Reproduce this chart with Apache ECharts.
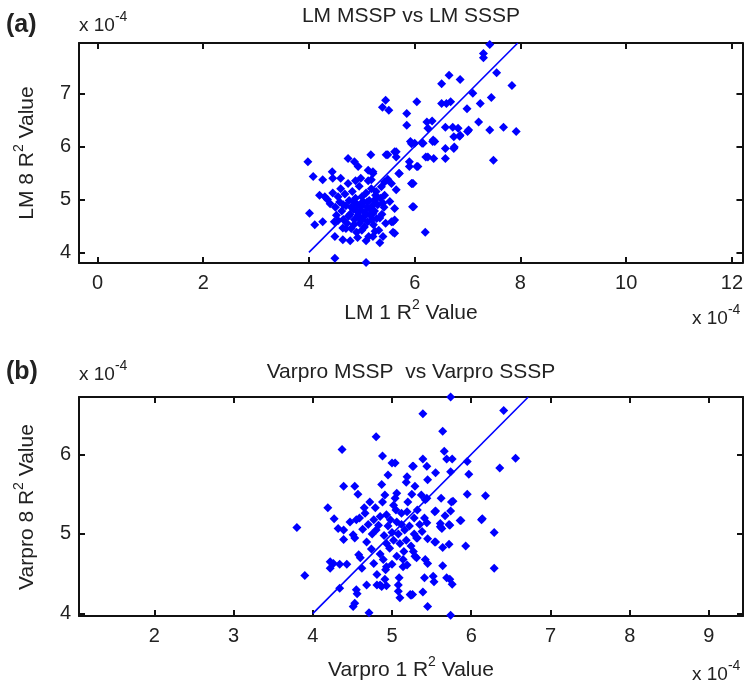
<!DOCTYPE html>
<html>
<head>
<meta charset="utf-8">
<script src="https://cdn.jsdelivr.net/npm/echarts@6/dist/echarts.min.js"></script>
<style>
html,body{margin:0;padding:0;background:#fff;}
#chart{width:746px;height:687px;}
</style>
</head>
<body>
<div id="chart"></div>
<script>
// ---------- data (values in units of 1e-4) ----------
const titleA = 'LM MSSP vs LM SSSP';
const titleB = 'Varpro MSSP  vs Varpro SSSP';
const topXTicks = [0, 2, 4, 6, 8, 10, 12];
const topYTicks = [4, 5, 6, 7];
const botXTicks = [2, 3, 4, 5, 6, 7, 8, 9];
const botYTicks = [4, 5, 6];
const topXRange = [-0.35, 12.2];
const topYRange = [3.8, 7.95];
const botXRange = [1.05, 9.43];
const botYRange = [3.97, 6.72];
const fitA = [[4, 4], [7.95, 7.95]];
const fitB = [[4, 4], [6.72, 6.72]];

const pointsA = [
 [5.45,6.87],[5.39,6.74],[5.51,6.68],[5.85,6.62],[5.85,6.40],[5.92,6.09],
 [3.98,5.71],[4.74,5.77],[5.17,5.84],[5.49,5.84],[5.65,5.90],
 [4.08,5.43],[4.26,5.37],[4.44,5.52],[4.45,5.40],[4.86,5.71],[4.93,5.62],
 [5.12,5.55],[5.21,5.49],[5.70,5.49],[5.90,5.62],[5.65,5.18],[5.97,5.30],
 [4.20,5.08],[4.30,5.05],[4.01,4.74],[4.11,4.52],[4.26,4.58],[4.49,4.30],
 [4.64,4.46],[4.64,4.24],[5.34,4.18],[5.62,4.36],[5.59,4.58],[4.49,3.89],
 [5.08,3.81],[5.96,4.86],
 [7.42,7.92],[7.30,7.75],[7.30,7.67],[6.65,7.34],[6.51,7.18],[6.86,7.26],[7.55,7.39],[7.84,7.15],
 [6.04,6.84],[6.51,6.81],[6.60,6.81],[6.68,6.84],[7.10,7.00],[6.99,6.71],[7.24,6.81],[7.45,6.92],
 [6.23,6.46],[6.33,6.48],[6.25,6.34],[7.21,6.46],[6.58,6.36],[6.72,6.36],[6.82,6.34],[7.02,6.31],
 [7.42,6.31],[7.68,6.36],[7.92,6.28],[6.74,6.18],[6.86,6.21],[6.35,6.12],[6.38,6.09],[6.16,6.06],
 [6.00,6.06],[6.58,5.96],[6.74,5.96],[6.21,5.80],[6.36,5.77],[6.58,5.77],[7.49,5.74],[6.04,5.62],
 [5.95,5.30],[5.98,4.86],[6.20,4.38],
 [5.46,5.84],[5.62,5.90],[5.65,5.80],[5.21,5.52],[5.18,5.37],[5.43,5.33],[5.49,5.38],[5.56,5.30],
 [5.37,5.24],[5.27,5.15],[5.43,5.08],[5.24,4.99],[5.40,4.93],[5.53,4.96],[5.62,4.83],
 [5.21,4.74],[5.34,4.65],[5.56,4.58],[5.62,4.61],[5.59,4.38],[5.21,4.30],
 [5.94,6.05],[6.14,6.06],[6.34,6.09],[6.75,5.99],[6.85,6.19],[7.00,6.28],
 [5.90,5.71],[6.06,5.62],[5.94,5.30],[5.71,5.49],[6.25,5.80],
 [4.35,5.00],[4.40,4.92],[4.45,5.12],[4.50,4.85],[4.52,4.70],[4.55,5.05],[4.58,4.95],[4.60,5.20],[4.62,4.78],[4.65,4.62],
 [4.68,5.10],[4.70,4.88],[4.72,4.55],[4.74,5.30],[4.76,4.98],[4.78,4.72],[4.80,4.45],[4.82,5.15],[4.84,4.82],[4.86,4.62],
 [4.88,5.02],[4.90,4.38],[4.92,4.90],[4.93,4.70],[4.95,5.25],[4.96,4.55],[4.98,4.80],[5.00,5.05],[5.01,4.62],[5.03,4.95],
 [5.05,4.48],[5.06,4.75],[5.08,5.12],[5.10,4.85],[5.11,4.58],[5.13,4.30],[5.14,4.98],[5.16,4.70],[5.18,5.20],[5.20,4.88],
 [5.22,4.52],[5.24,4.78],[5.26,5.08],[5.28,4.64],[5.30,4.90],[5.32,4.42],[5.35,5.02],[5.38,4.72],[5.42,4.85],[5.45,4.55],
 [4.85,4.95],[4.90,4.78],[4.95,4.65],[5.00,4.88],[5.05,4.68],[5.10,4.95],[4.80,4.85],[4.75,4.68],[5.15,4.82],[5.20,4.62],
 [4.70,4.45],[4.85,4.52],[5.00,4.42],[4.65,4.90],[4.55,4.60],[5.12,5.35],[4.98,5.40],[4.88,5.35],[4.60,5.40],[4.48,4.58],
 [5.25,4.40],[4.92,4.28],[5.08,4.22],[4.78,4.22],[5.40,4.30]
];

const pointsB = [
 [4.80,6.22],[4.37,6.06],[4.88,5.98],[5.00,5.89],[5.04,5.89],[5.26,5.85],[4.95,5.74],[5.19,5.72],
 [4.39,5.60],[4.53,5.60],[4.57,5.50],[4.87,5.62],[5.18,5.65],[4.19,5.33],[3.80,5.08],[4.65,5.33],
 [4.66,5.26],[4.79,5.33],[4.91,5.49],[5.06,5.51],[4.27,5.19],[4.32,5.07],[4.39,5.05],[4.47,5.15],
 [4.55,5.18],[4.59,5.20],[4.63,5.06],[4.51,4.99],[4.53,4.95],[4.39,4.93],[4.77,5.18],[4.83,5.11],
 [4.93,5.24],[5.02,5.36],[5.12,5.26],[5.06,5.15],[5.19,5.28],[4.68,4.90],[4.74,4.81],[4.58,4.74],
 [4.60,4.70],[4.93,4.88],[4.97,4.82],[5.06,4.72],[4.22,4.65],[4.26,4.63],[4.34,4.62],[4.43,4.62],
 [4.22,4.57],[4.62,4.57],[4.77,4.63],[4.89,4.68],[5.14,4.59],[5.19,4.61],[3.90,4.48],[4.34,4.32],
 [4.55,4.30],[4.56,4.25],[4.68,4.36],[4.81,4.49],[4.81,4.36],[4.87,4.34],[4.93,4.35],[5.08,4.36],
 [5.08,4.28],[5.10,4.20],[5.23,4.24],[4.53,4.13],[4.51,4.09],[4.71,4.01],[5.09,4.45],[5.31,4.95],
 [5.74,6.72],[5.39,6.51],[6.41,6.55],[5.64,6.29],[5.66,6.04],[5.39,5.94],[5.69,5.94],[5.76,5.94],
 [5.95,5.91],[6.56,5.95],[6.36,5.83],[5.27,5.85],[5.44,5.85],[5.55,5.77],[5.74,5.78],[5.97,5.75],
 [5.45,5.68],[5.29,5.60],[5.37,5.49],[5.44,5.45],[5.42,5.43],[5.62,5.45],[5.77,5.41],[5.95,5.50],
 [6.18,5.48],[5.55,5.29],[5.67,5.23],[5.74,5.29],[5.28,5.20],[5.41,5.20],[5.44,5.14],[5.61,5.13],
 [5.63,5.07],[5.72,5.12],[5.87,5.17],[6.14,5.19],[6.29,5.02],[5.38,5.03],[5.32,4.95],[5.45,4.94],
 [5.55,4.90],[5.64,4.83],[5.72,4.87],[5.93,4.85],[5.27,4.78],[5.29,4.72],[5.31,4.70],[5.42,4.68],
 [5.45,4.63],[5.64,4.60],[6.29,4.57],[5.41,4.45],[5.52,4.47],[5.53,4.40],[5.69,4.45],[5.76,4.37],
 [5.26,4.24],[5.39,4.27],[5.45,4.09],[5.74,3.98],
 [6.13,5.18],[5.86,5.17],[5.75,5.40],[5.54,5.28],[5.73,5.11],[5.61,5.09],[5.54,4.90],[5.73,4.43],
 [5.24,4.23],[4.91,4.43],[4.85,4.36],[4.93,4.59],
 [4.72,5.40],[4.80,5.05],[4.85,5.22],[4.90,4.98],[4.95,5.10],[5.00,5.02],[5.02,4.92],[5.05,5.30],[5.08,5.00],[5.10,4.88],
 [5.12,5.12],[5.15,4.78],[5.16,5.05],[5.18,4.92],[5.20,5.40],[5.22,5.10],[5.24,4.85],[4.98,5.18],[4.88,5.40],[4.75,5.00],
 [5.00,4.62],[5.14,4.68],[4.70,5.12],[5.25,5.50],[5.32,5.30],[4.85,4.75],[5.35,5.12],[5.04,5.45],[4.92,4.55],[5.28,5.00]
];

// ---------- styling ----------
const FONT = "'Liberation Sans', Arial, Helvetica, sans-serif";
const TXT = '#222';
const BLUE = '#0000ff';
const AXC = '#111';

const canvas = document.createElement('canvas');
const ctx2 = canvas.getContext('2d');
function measure(t, size, weight) {
  ctx2.font = (weight || 'normal') + ' ' + size + 'px ' + FONT;
  return ctx2.measureText(t).width;
}
// parts: [{text, size, dy, weight}]; centered group at (cx, cy)
function textGroup(cx, cy, parts, rotation, anchor) {
  let total = 0;
  parts.forEach(p => { p.w = measure(p.text, p.size, p.weight); total += p.w; });
  let x0 = anchor === 'left' ? 0 : -total / 2;
  const children = parts.map(p => {
    const el = {
      type: 'text', x: x0, y: p.dy || 0,
      style: { text: p.text, fill: TXT, fontSize: p.size, fontFamily: FONT,
               fontWeight: p.weight || 'normal', align: 'left', verticalAlign: 'middle' }
    };
    x0 += p.w;
    return el;
  });
  return { type: 'group', x: cx, y: cy, rotation: rotation || 0, children: children };
}

function xAxes(gi, range, ticks, margin) {
  const common = {
    type: 'value', gridIndex: gi, min: range[0], max: range[1],
    axisLine: { show: true, onZero: false, lineStyle: { color: AXC, width: 2 } },
    axisTick: { show: true, inside: true, length: 6, customValues: ticks, lineStyle: { color: AXC, width: 2 } },
    splitLine: { show: false }
  };
  return [
    Object.assign({}, common, { position: 'bottom',
      axisLabel: { show: true, customValues: ticks, margin: margin, color: TXT, fontSize: 20, fontFamily: FONT } }),
    Object.assign({}, common, { position: 'top', axisLabel: { show: false } })
  ];
}
function yAxes(gi, range, ticks) {
  const common = {
    type: 'value', gridIndex: gi, min: range[0], max: range[1],
    axisLine: { show: true, onZero: false, lineStyle: { color: AXC, width: 2 } },
    axisTick: { show: true, inside: true, length: 6, customValues: ticks, lineStyle: { color: AXC, width: 2 } },
    splitLine: { show: false }
  };
  return [
    Object.assign({}, common, { position: 'left',
      axisLabel: { show: true, customValues: ticks, margin: 8, color: TXT, fontSize: 20, fontFamily: FONT } }),
    Object.assign({}, common, { position: 'right', axisLabel: { show: false } })
  ];
}

const chart = echarts.init(document.getElementById('chart'), null, { renderer: 'canvas' });
const option = {
  animation: false,
  backgroundColor: '#fff',
  grid: [
    { left: 79, top: 43, width: 664, height: 220 },
    { left: 79, top: 397, width: 664, height: 219 }
  ],
  xAxis: [].concat(xAxes(0, topXRange, topXTicks, 10), xAxes(1, botXRange, botXTicks, 10)),
  yAxis: [].concat(yAxes(0, topYRange, topYTicks), yAxes(1, botYRange, botYTicks)),
  series: [
    { type: 'scatter', xAxisIndex: 0, yAxisIndex: 0, data: pointsA, symbol: 'diamond', symbolSize: 9,
      itemStyle: { color: BLUE, opacity: 1 } },
    { type: 'line', xAxisIndex: 0, yAxisIndex: 0, data: fitA, showSymbol: false, symbol: 'none',
      lineStyle: { color: BLUE, width: 1.6 }, z: 3 },
    { type: 'scatter', xAxisIndex: 2, yAxisIndex: 2, data: pointsB, symbol: 'diamond', symbolSize: 9,
      itemStyle: { color: BLUE, opacity: 1 } },
    { type: 'line', xAxisIndex: 2, yAxisIndex: 2, data: fitB, showSymbol: false, symbol: 'none',
      lineStyle: { color: BLUE, width: 1.6 }, z: 3 }
  ],
  graphic: [
    textGroup(6, 25, [{ text: '(a)', size: 25, weight: 'bold' }], 0, 'left'),
    textGroup(6, 372, [{ text: '(b)', size: 25, weight: 'bold' }], 0, 'left'),
    textGroup(79, 26, [{ text: 'x 10', size: 19 }, { text: '-4', size: 14, dy: -9 }], 0, 'left'),
    textGroup(79, 375, [{ text: 'x 10', size: 19 }, { text: '-4', size: 14, dy: -9 }], 0, 'left'),
    textGroup(692, 319, [{ text: 'x 10', size: 19 }, { text: '-4', size: 14, dy: -9 }], 0, 'left'),
    textGroup(692, 675, [{ text: 'x 10', size: 19 }, { text: '-4', size: 14, dy: -9 }], 0, 'left'),
    textGroup(411, 16, [{ text: titleA, size: 21 }]),
    textGroup(411, 372, [{ text: titleB, size: 21 }]),
    textGroup(411, 313, [{ text: 'LM 1 R', size: 21 }, { text: '2', size: 14, dy: -8 }, { text: ' Value', size: 21 }]),
    textGroup(411, 670, [{ text: 'Varpro 1 R', size: 21 }, { text: '2', size: 14, dy: -8 }, { text: ' Value', size: 21 }]),
    textGroup(27, 153, [{ text: 'LM 8 R', size: 21 }, { text: '2', size: 14, dy: -8 }, { text: ' Value', size: 21 }], Math.PI / 2),
    textGroup(27, 507, [{ text: 'Varpro 8 R', size: 21 }, { text: '2', size: 14, dy: -8 }, { text: ' Value', size: 21 }], Math.PI / 2)
  ]
};
chart.setOption(option);
</script>
</body>
</html>
